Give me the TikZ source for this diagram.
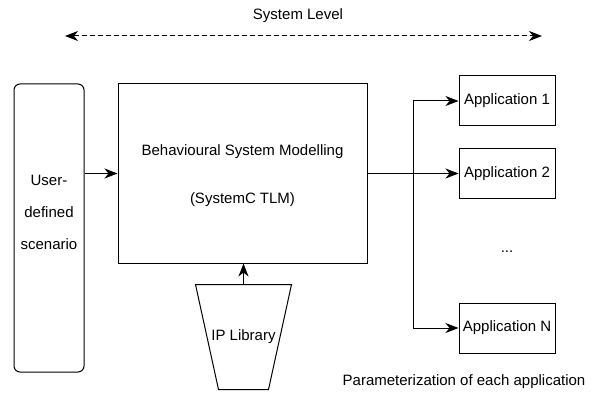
\documentclass[tikz,border=0pt]{standalone}
\usepackage{fontspec}
\setmainfont{Liberation Sans}
\usetikzlibrary{arrows.meta}

\tikzset{
  box/.style={rectangle,draw,inner sep=0pt},
  appbox/.style={box,minimum width=96pt,minimum height=50pt},
  tip/.style={-{Stealth[length=13pt,width=10pt,inset=4pt]}}
}

\begin{document}
\begin{tikzpicture}[x=1pt,y=-1pt,line width=1pt,font=\fontsize{15}{18}\selectfont]
\useasboundingbox (0,0) rectangle (596,395);
\node (level) at (298,16) {System Level};
\coordinate (levelL) at (65,36);
\coordinate (levelR) at (542,36);
\draw[dash pattern=on 5pt off 3pt,{Stealth[length=13pt,width=10pt,inset=4pt]}-{Stealth[length=13pt,width=10pt,inset=4pt]}] (levelL) -- (levelR);

\node[box,rounded corners=6pt,minimum width=70pt,minimum height=288pt] (user) at (49,228) {};
\node[align=center] (usertext) at (49,212) {User-\\[14pt]defined\\[14pt]scenario};
\node[box,minimum width=249pt,minimum height=179pt] (model) at (242.5,173.5) {};
\node (modeltop) at (242.5,152) {Behavioural System Modelling};
\node (modelbot) at (242.5,200) {(SystemC TLM)};
\node[minimum width=95pt,minimum height=104pt,inner sep=0pt] (iplib) at (243.5,337) {IP Library};
\draw (iplib.north west) -- (iplib.north east) -- ([xshift=-23pt]iplib.south east)
  -- ([xshift=23pt]iplib.south west) -- cycle;

\node[appbox] (app1) at (507,101) {Application 1};
\node[appbox] (app2) at (507,173.5) {Application 2};
\node[appbox] (appN) at (507,328) {Application N};
\node (dots) at (507,252) {...};
\node (param) at (464,382) {Parameterization of each application};

\draw[tip] (user.east |- model.west) -- (model.west);
\draw[tip] (iplib.north) -- (iplib.north |- model.south);
\coordinate (split) at (413,173.5);
\draw (model.east) -- (split);
\draw[tip] (split) |- (app1.west);
\draw[tip] (split) -- (app2.west);
\draw[tip] (split) |- (appN.west);
\end{tikzpicture}
\end{document}
